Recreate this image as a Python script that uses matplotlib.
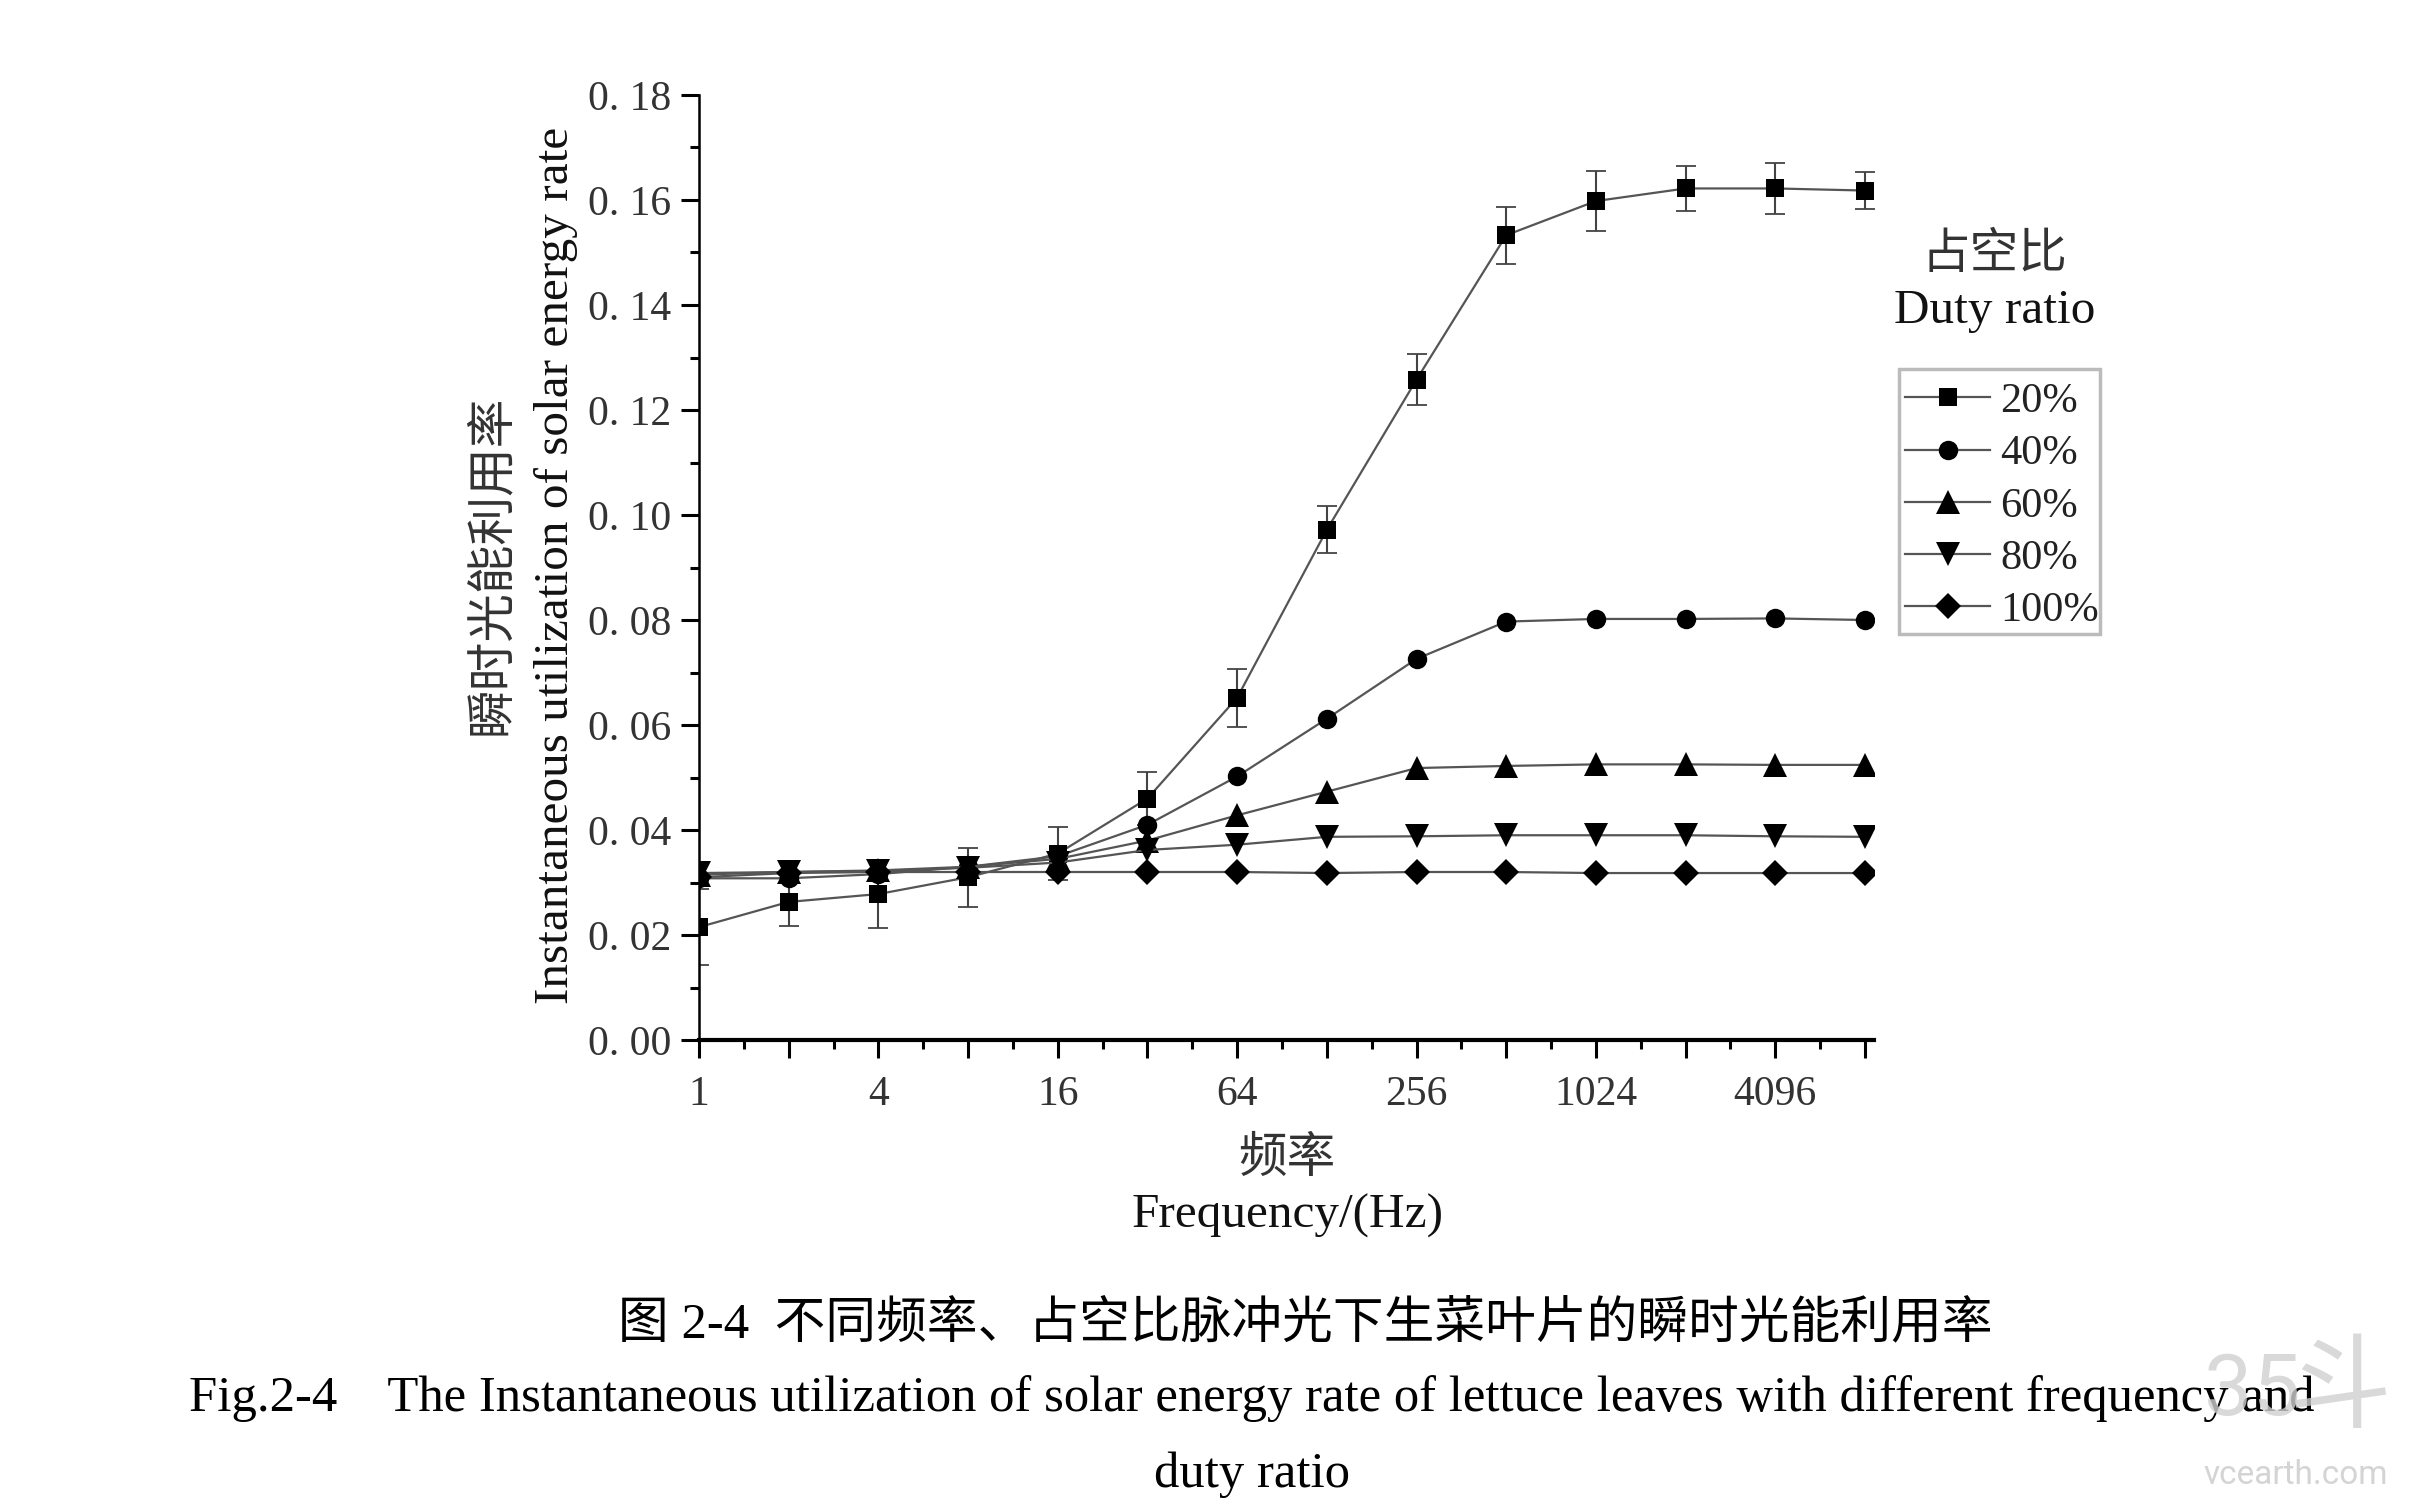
import matplotlib
matplotlib.use('Agg')
import matplotlib.pyplot as plt
from matplotlib.patches import Rectangle
from matplotlib.ticker import FixedLocator, FixedFormatter

plt.rcParams['font.family'] = ['Liberation Serif', 'Noto Sans CJK SC', 'DejaVu Sans']

# Dados
freq = [1, 2, 4, 8, 16, 32, 64, 128, 256, 512, 1024, 2048, 4096, 8192]
duty_20 = [0.0215, 0.0263, 0.0278, 0.0310, 0.0355, 0.0460, 0.0652, 0.0972, 0.1258, 0.1533, 0.1598, 0.1622, 0.1622, 0.1618]
erro_20 = [0.0072, 0.0046, 0.0064, 0.0056, 0.0051, 0.0050, 0.0055, 0.0045, 0.0048, 0.0054, 0.0057, 0.0043, 0.0048, 0.0036]
duty_40 = [0.0308, 0.0308, 0.0316, 0.0330, 0.0350, 0.0410, 0.0502, 0.0612, 0.0726, 0.0797, 0.0802, 0.0802, 0.0803, 0.0800]
duty_60 = [0.0315, 0.0320, 0.0323, 0.0330, 0.0345, 0.0380, 0.0428, 0.0473, 0.0518, 0.0522, 0.0525, 0.0525, 0.0524, 0.0524]
duty_80 = [0.0318, 0.0320, 0.0322, 0.0328, 0.0338, 0.0362, 0.0372, 0.0387, 0.0388, 0.0390, 0.0390, 0.0390, 0.0388, 0.0387]
duty_100 = [0.0310, 0.0318, 0.0320, 0.0320, 0.0320, 0.0320, 0.0320, 0.0318, 0.0320, 0.0320, 0.0318, 0.0318, 0.0318, 0.0318]
legendas = ['20%', '40%', '60%', '80%', '100%']
marcadores = ['s', 'o', '^', 'v', 'D']
tamanhos = [13, 14, 17, 17, 13]
y_ticks = [0.00, 0.02, 0.04, 0.06, 0.08, 0.10, 0.12, 0.14, 0.16, 0.18]
x_labels = ['1', '', '4', '', '16', '', '64', '', '256', '', '1024', '', '4096', '']

W, H = 2409, 1507
fig = plt.figure(figsize=(W / 100, H / 100), dpi=100)
ax = fig.add_axes([699 / W, 1 - 1040 / H, (1874 - 699) / W, (1040 - 95) / H])

series = [duty_20, duty_40, duty_60, duty_80, duty_100]
for valores, nome, m, tam in zip(series, legendas, marcadores, tamanhos):
    ax.plot(freq, valores, color='#555555', lw=1.6, marker=m, ms=tam, mfc='black', mec='black',
            mew=0, label=nome, zorder=3)
ax.errorbar(freq, duty_20, yerr=erro_20, fmt='none', ecolor='#444444', elinewidth=1.5,
            capsize=7.5, capthick=1.3, zorder=2)

ax.set_xscale('log', base=2)
ax.set_xlim(1, 2 ** 13.1)
ax.set_ylim(0, 0.18)
ax.spines['top'].set_visible(False)
ax.spines['right'].set_visible(False)
ax.spines['left'].set_linewidth(1.8)
ax.spines['bottom'].set_linewidth(3)

ax.xaxis.set_major_locator(FixedLocator(freq))
ax.xaxis.set_major_formatter(FixedFormatter(x_labels))
ax.xaxis.set_minor_locator(FixedLocator([f * 2 ** 0.5 for f in freq[:-1]]))
ax.xaxis.set_minor_formatter(FixedFormatter([]))
ax.set_yticks(y_ticks)
ax.set_yticklabels([f'{v:.2f}'.replace('.', '. ') for v in y_ticks])
ax.set_yticks([v + 0.01 for v in y_ticks[:-1]], minor=True)
ax.tick_params(axis='both', which='major', length=13, width=2.2, labelsize=30, labelcolor='#333333', pad=7)
ax.tick_params(axis='both', which='minor', length=6.5, width=2.2)
ax.tick_params(axis='x', which='major', pad=12.5)

# Textos dos eixos
fig.text(492 / W, 1 - 565 / H, '瞬时光能利用率', rotation=90, ha='center', va='center', fontsize=35, color='#333333')
fig.text(556 / W, 1 - 565 / H, 'Instantaneous utilization of solar energy rate', rotation=90,
         ha='center', va='center', fontsize=35.5, color='#111111')
fig.text(1287 / W, 1 - 1159 / H, '频率', ha='center', va='center', fontsize=35, color='#333333')
fig.text(1288 / W, 1 - 1216 / H, 'Frequency/(Hz)', ha='center', va='center', fontsize=35.5, color='#111111')
fig.text(1994 / W, 1 - 255 / H, '占空比', ha='center', va='center', fontsize=35, color='#333333')
fig.text(1995 / W, 1 - 311 / H, 'Duty ratio', ha='center', va='center', fontsize=35.5, color='#111111')

# Legenda sem moldura, a caixa e desenhada a parte
fig.legend(loc='upper left', bbox_to_anchor=(1897 / W, 1 - 374 / H), fontsize=30.5, frameon=False,
           borderaxespad=0, borderpad=0.2, labelspacing=0.32, handlelength=2.0, handletextpad=0.23,
           labelcolor='#222222')
fig.add_artist(Rectangle((1899 / W, 1 - 634 / H), 201 / W, 265 / H, transform=fig.transFigure,
                         fill=False, edgecolor='#bbbbbb', lw=2.5))

# Legenda da figura
fig.text(1305 / W, 1 - 1324 / H, '图 2-4  不同频率、占空比脉冲光下生菜叶片的瞬时光能利用率', ha='center', va='center',
         fontsize=36.5, color='black')
fig.text(1252 / W, 1 - 1399 / H,
         'Fig.2-4    The Instantaneous utilization of solar energy rate of lettuce leaves with different frequency and',
         ha='center', va='center', fontsize=36.5, color='black')
fig.text(1252 / W, 1 - 1475 / H, 'duty ratio', ha='center', va='center', fontsize=36.5, color='black')

# Marca d'agua
fig.text(2252 / W, 1 - 1392 / H, '35', ha='center', va='center', fontsize=62, color='#d0d0d0', alpha=0.8,
         family=['Roboto'], zorder=10)
fig.text(2340 / W, 1 - 1390 / H, '斗', ha='center', va='center', fontsize=74, color='#d0d0d0', alpha=0.8,
         family=['Noto Sans CJK SC'], zorder=10)
fig.text(2296 / W, 1 - 1475 / H, 'vcearth.com', ha='center', va='center', fontsize=24, color='#d0d0d0', alpha=0.9,
         family=['Roboto'], zorder=10)

fig.savefig('out.png', dpi=100)
